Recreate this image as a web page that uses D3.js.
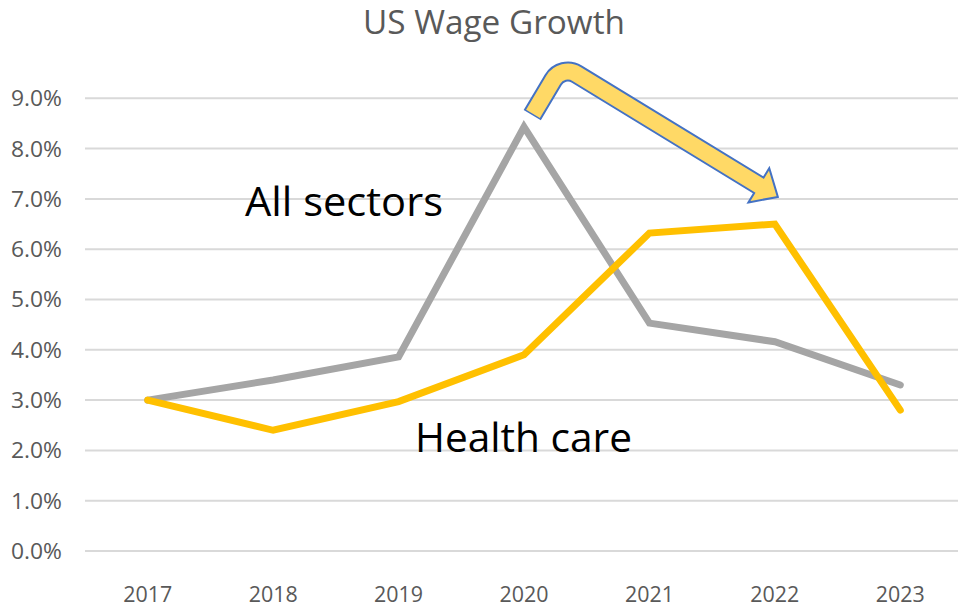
<!DOCTYPE html>
<html>
<head>
<meta charset="utf-8">
<script src="https://cdn.jsdelivr.net/npm/d3@7"></script>
<style>
  body { margin: 0; background: #fff; }
  svg { display: block; font-family: "Open Sans", "Noto Sans", sans-serif; }
</style>
</head>
<body>
<script>
let width = 958, height = 608;

const years = ["2017", "2018", "2019", "2020", "2021", "2022", "2023"];
const allSectors = [0.030, 0.034, 0.0386, 0.0843, 0.0453, 0.0416, 0.033];
const healthCare = [0.030, 0.024, 0.0297, 0.039, 0.0632, 0.065, 0.028];
const yTicks = [0, 0.01, 0.02, 0.03, 0.04, 0.05, 0.06, 0.07, 0.08, 0.09];

const svg = d3.create("svg")
    .attr("width", width)
    .attr("height", height)
    .attr("viewBox", [0, 0, width, height]);

document.body.appendChild(svg.node());

const x = d3.scalePoint()
    .domain(years)
    .range([85, 963])
    .padding(0.5);

const y = d3.scaleLinear()
    .domain([0, 0.09])
    .range([551, 98.3]);

// title
svg.append("text")
    .attr("x", 494)
    .attr("y", 34)
    .attr("text-anchor", "middle")
    .attr("fill", "#595959")
    .attr("font-size", 32)
    .attr("textLength", 262)
    .attr("lengthAdjust", "spacingAndGlyphs")
    .text("US Wage Growth");

// gridlines
svg.append("g")
    .selectAll("line")
    .data(yTicks)
    .join("line")
    .attr("x1", 85)
    .attr("x2", width)
    .attr("y1", d => y(d))
    .attr("y2", d => y(d))
    .attr("stroke", "#d9d9d9")
    .attr("stroke-width", 2);

// y axis labels
svg.append("g")
    .selectAll("text")
    .data(yTicks)
    .join("text")
    .attr("x", 62)
    .attr("y", d => y(d))
    .attr("dy", "0.36em")
    .attr("text-anchor", "end")
    .attr("fill", "#595959")
    .attr("font-size", 22)
    .attr("textLength", 51)
    .attr("lengthAdjust", "spacingAndGlyphs")
    .text(d3.format(".1%"));

// x axis labels
svg.append("g")
    .selectAll("text")
    .data(years)
    .join("text")
    .attr("x", d => x(d))
    .attr("y", 602)
    .attr("text-anchor", "middle")
    .attr("fill", "#595959")
    .attr("font-size", 22)
    .attr("textLength", 49)
    .attr("lengthAdjust", "spacingAndGlyphs")
    .text(d => d);

const line = d3.line()
    .x((d, i) => x(years[i]))
    .y(d => y(d));

svg.append("path")
    .datum(allSectors)
    .attr("d", line)
    .attr("fill", "none")
    .attr("stroke", "#a5a5a5")
    .attr("stroke-width", 7)
    .attr("stroke-linecap", "round");

svg.append("path")
    .datum(healthCare)
    .attr("d", line)
    .attr("fill", "none")
    .attr("stroke", "#ffc000")
    .attr("stroke-width", 7)
    .attr("stroke-linecap", "round");

// labels on the chart
svg.append("text")
    .attr("x", 245)
    .attr("y", 216)
    .attr("font-size", 41)
    .attr("fill", "#000")
    .attr("textLength", 198)
    .attr("lengthAdjust", "spacingAndGlyphs")
    .text("All sectors");

svg.append("text")
    .attr("x", 415)
    .attr("y", 452)
    .attr("font-size", 41)
    .attr("fill", "#000")
    .attr("textLength", 217)
    .attr("lengthAdjust", "spacingAndGlyphs")
    .text("Health care");

// bent arrow from the 2020 peak down to 2022
const p0 = [x("2020") + 9, y(0.0869)];
const p1 = [x("2020") + 38, y(0.0966)];
const pb = [x("2022") - 16, y(0.0727)];
const tip = [x("2022") + 3, y(0.0704)];

const dx0 = p1[0] - p0[0], dy0 = p1[1] - p0[1], l0 = Math.hypot(dx0, dy0);
const ux = (tip[0] - pb[0]), uy = (tip[1] - pb[1]), lu = Math.hypot(ux, uy);
const dir = [ux / lu, uy / lu];
const nrm = [-dir[1], dir[0]];

function shaft(back, extra) {
    const p = d3.path();
    p.moveTo(p0[0] - dx0 / l0 * back, p0[1] - dy0 / l0 * back);
    p.arcTo(p1[0], p1[1], pb[0], pb[1], 17);
    p.lineTo(pb[0] + dir[0] * extra, pb[1] + dir[1] * extra);
    return p.toString();
}

svg.append("path")
    .attr("d", shaft(1.5, 0))
    .attr("fill", "none")
    .attr("stroke", "#4472c4")
    .attr("stroke-width", 20);

const hw = 20;
svg.append("path")
    .attr("d", d3.line()([
        [pb[0] + nrm[0] * hw, pb[1] + nrm[1] * hw],
        tip,
        [pb[0] - nrm[0] * hw, pb[1] - nrm[1] * hw]
    ]) + "Z")
    .attr("fill", "#ffd966")
    .attr("stroke", "#4472c4")
    .attr("stroke-width", 2)
    .attr("stroke-linejoin", "miter");

svg.append("path")
    .attr("d", shaft(0, 2))
    .attr("fill", "none")
    .attr("stroke", "#ffd966")
    .attr("stroke-width", 16);
</script>
</body>
</html>
